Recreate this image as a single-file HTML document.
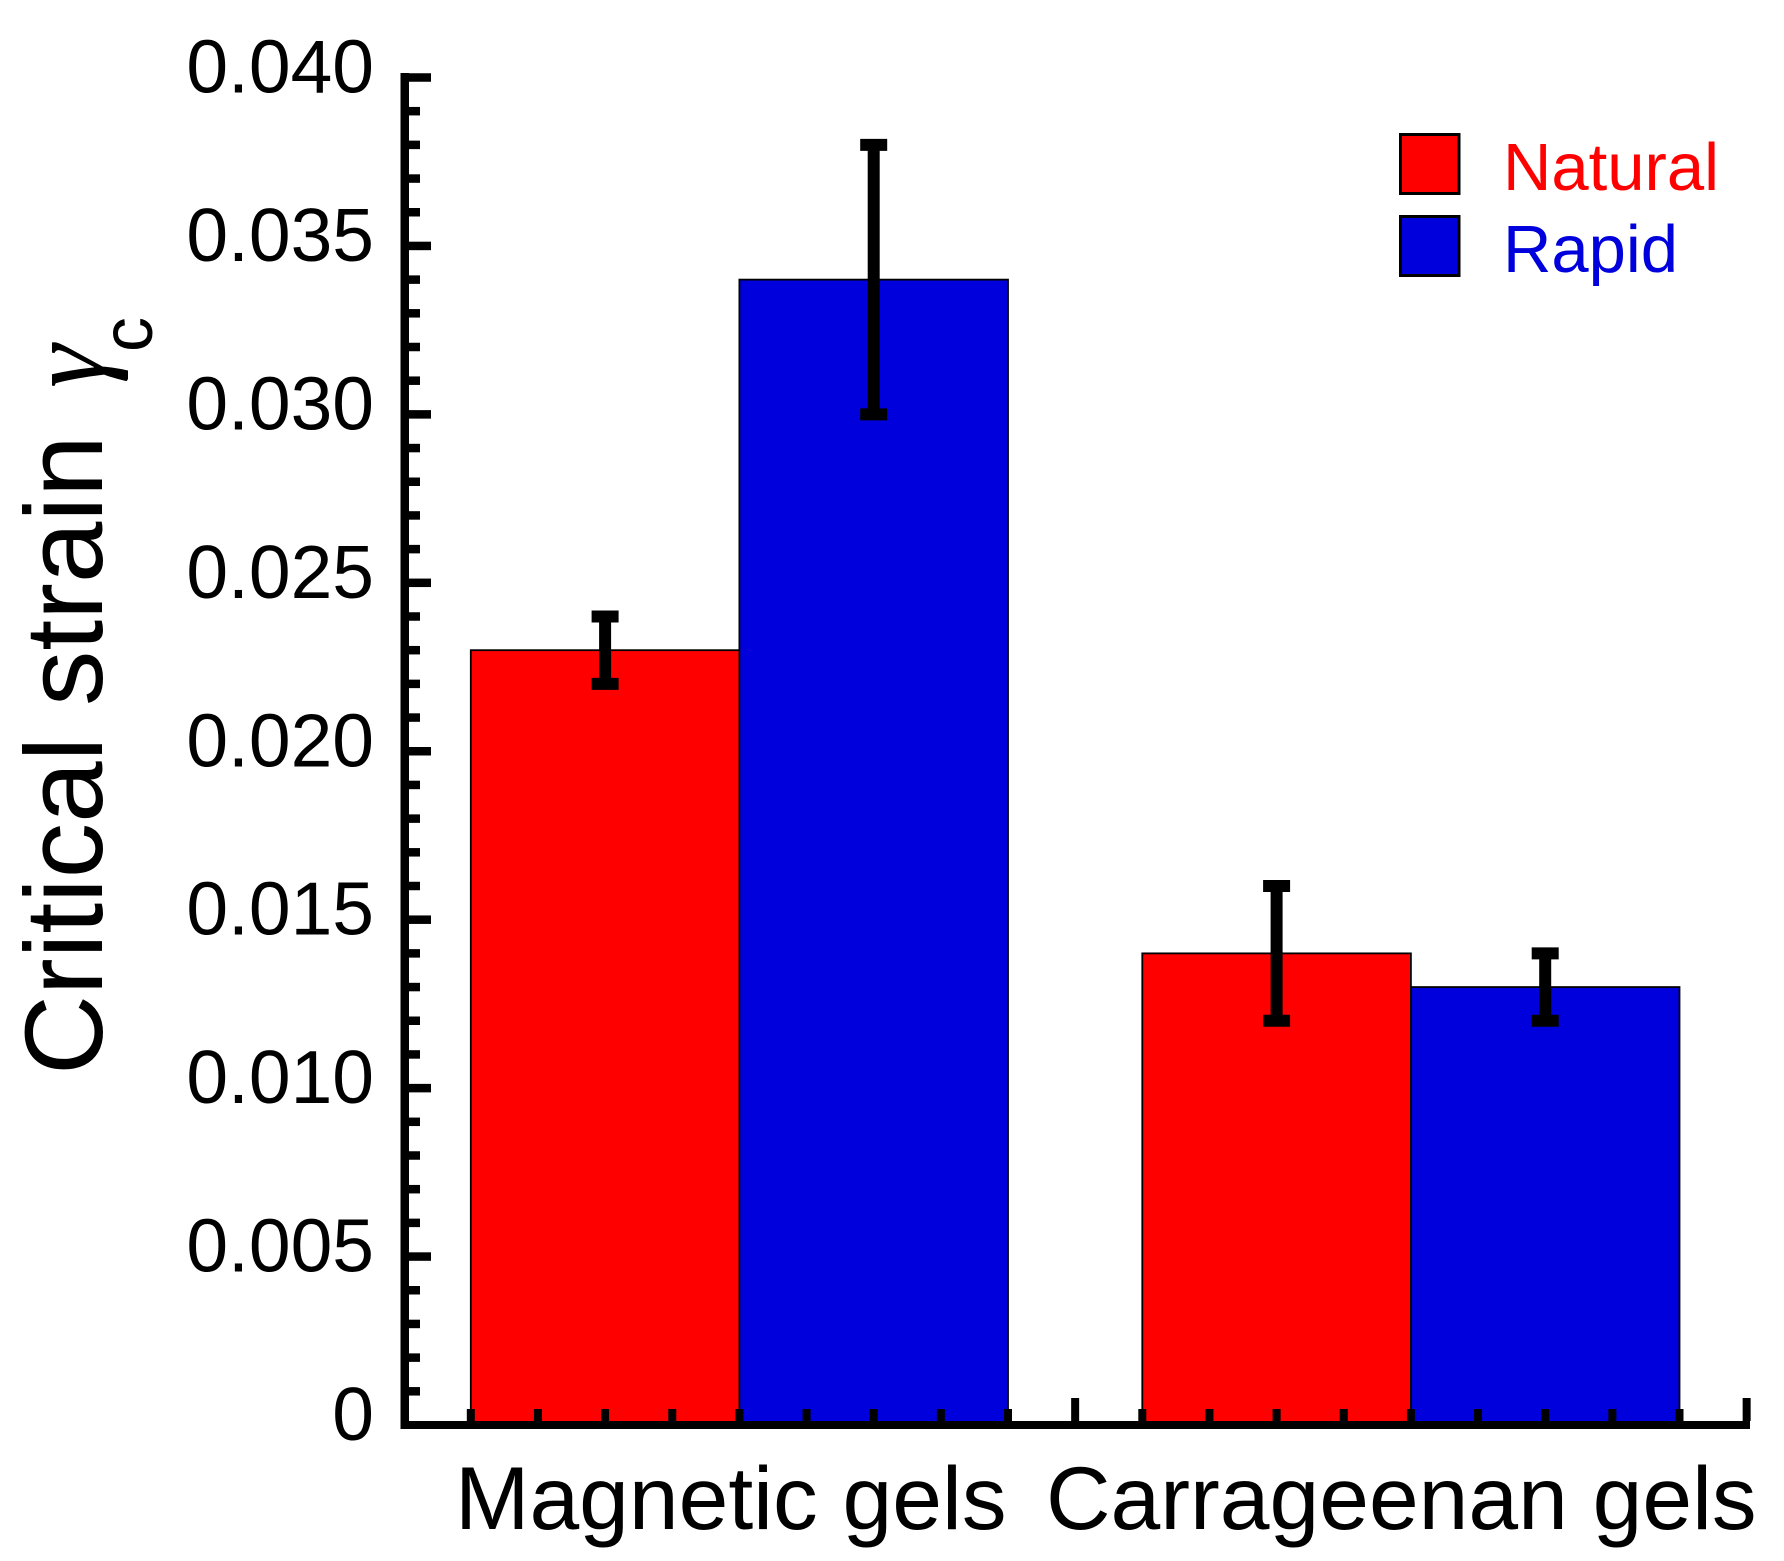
<!DOCTYPE html>
<html lang="en">
<head>
<meta charset="utf-8">
<title>Critical strain bar chart</title>
<style>
html,body{margin:0;padding:0;background:#fff;width:1784px;height:1561px;overflow:hidden}
svg{display:block;position:absolute;left:0;top:0}
text{font-family:"Liberation Sans",Arial,sans-serif;fill:#000}
</style>
</head>
<body>
<svg id="chart" xmlns="http://www.w3.org/2000/svg" width="1784" height="1561" viewBox="0 0 1784 1561">
  <rect x="0" y="0" width="1784" height="1561" fill="#fff"/>
  <g id="bars"></g>
  <g id="axes"></g>
  <g id="errors"></g>
  <g id="labels"></g>
  <g>
    <text transform="translate(102,1075) rotate(-90)" font-size="110.7">Critical strain</text>
    <text transform="translate(104,388) rotate(-90) scale(1,1.03)" font-size="110" font-style="italic" style="font-family:'Liberation Serif',serif">γ</text>
    <text transform="translate(152,352) rotate(-90) scale(1,1.04)" font-size="70">c</text>
  </g>
  <g>
    <rect x="1400.5" y="134.5" width="58.5" height="59" fill="#ff0000" stroke="#000" stroke-width="3"/>
    <text transform="translate(1503,190)" font-size="67" style="fill:#ff0000">Natural</text>
    <rect x="1400.5" y="216.5" width="58.5" height="59" fill="#0000dc" stroke="#000" stroke-width="3"/>
    <text transform="translate(1503,272)" font-size="67" style="fill:#0000dc">Rapid</text>
  </g>
</svg>
<script>
const categories = ['Magnetic gels', 'Carrageenan gels'];
const naturalValues = [0.023, 0.014];
const rapidValues = [0.034, 0.013];
const naturalErrorLow = [0.022, 0.012];
const naturalErrorHigh = [0.024, 0.016];
const rapidErrorLow = [0.030, 0.012];
const rapidErrorHigh = [0.038, 0.014];
const yTickValues = [0, 0.005, 0.010, 0.015, 0.020, 0.025, 0.030, 0.035, 0.040];
const yTickLabels = ['0', '0.005', '0.010', '0.015', '0.020', '0.025', '0.030', '0.035', '0.040'];

const NS = 'http://www.w3.org/2000/svg';
const Y_MAX = 0.04;
function yScale(v) { return 1425 - (v / Y_MAX) * 1347.5; }
function xScale(u) { return 470.8 + u * 67.15; }
function groupCenter(i) { return 4 + i * 10; }

function make(parent, tag, attrs) {
  const el = document.createElementNS(NS, tag);
  Object.keys(attrs).forEach(function (k) { el.setAttribute(k, attrs[k]); });
  parent.appendChild(el);
  return el;
}

const barsLayer = document.getElementById('bars');
const axesLayer = document.getElementById('axes');
const errorsLayer = document.getElementById('errors');
const labelsLayer = document.getElementById('labels');

function drawBar(value, uStart, color, name) {
  const y = yScale(value);
  const x0 = xScale(uStart);
  const el = make(barsLayer, 'rect', { x: x0, y: y, width: xScale(uStart + 4) - x0, height: yScale(0) - y, fill: color, stroke: '#000', 'stroke-width': 1.8 });
  
  
}

function drawError(low, high, u, name) {
  const cx = xScale(u);
  const group = make(errorsLayer, 'g', {});
  
  
  const stem = make(group, 'rect', { x: cx - 6, y: yScale(high), width: 12, height: yScale(low) - yScale(high), fill: '#000' });
  
  
  const capTop = make(group, 'rect', { x: cx - 13.5, y: yScale(high) - 6, width: 27, height: 12, fill: '#000' });
  
  
  const capBottom = make(group, 'rect', { x: cx - 13.5, y: yScale(low) - 6, width: 27, height: 12, fill: '#000' });
  
  
}

categories.forEach(function (cat, i) {
  const c = groupCenter(i);
  const slug = cat.toLowerCase().replace(/\s+/g, '-');
  drawBar(naturalValues[i], c - 4, '#ff0000', 'bar-natural-' + slug);
  drawBar(rapidValues[i], c, '#0000dc', 'bar-rapid-' + slug);
  drawError(naturalErrorLow[i], naturalErrorHigh[i], c - 2, 'error-bar-natural-' + slug);
  drawError(rapidErrorLow[i], rapidErrorHigh[i], c + 2, 'error-bar-rapid-' + slug);
});

const yAxisLine = make(axesLayer, 'rect', { x: 400.5, y: 73, width: 8.5, height: 1356, fill: '#000' });


const xAxisLine = make(axesLayer, 'rect', { x: 400.5, y: 1421, width: 1349.5, height: 8, fill: '#000' });



for (let i = 1; i <= 40; i++) {
  const major = i % 5 === 0;
  const y = yScale(i * 0.001);
  const t = make(axesLayer, 'rect', { x: 409, y: y - 4.25, width: major ? 22 : 11, height: 8.5, fill: '#000' });
  
  
}

for (let u = 0; u <= 19; u++) {
  const major = u % 10 === 9;
  const x = xScale(u);
  const top = major ? 1398 : 1409;
  const t = make(axesLayer, 'rect', { x: x - 4, y: top, width: 8, height: 1421 - top, fill: '#000' });
  
  
}

yTickLabels.forEach(function (label, i) {
  const t = make(labelsLayer, 'text', { transform: 'translate(374,' + (yScale(yTickValues[i]) + 15) + ')', 'font-size': 75, 'text-anchor': 'end' });
  t.textContent = label;
  
  
});

const categoryLeft = [455, 1046];
categories.forEach(function (cat, i) {
  const t = make(labelsLayer, 'text', { transform: 'translate(' + categoryLeft[i] + ',1529)', 'font-size': 89.4 });
  t.textContent = cat;
  
  
});
</script>
</body>
</html>
